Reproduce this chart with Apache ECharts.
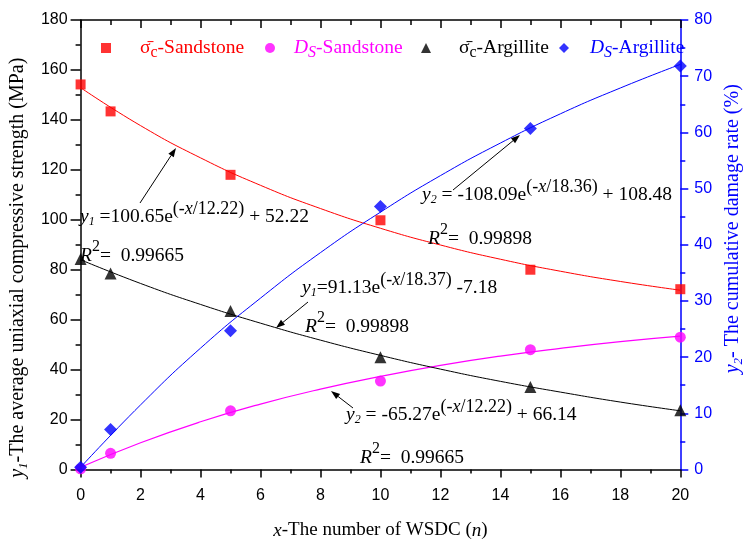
<!DOCTYPE html>
<html><head><meta charset="utf-8">
<script src="https://cdn.jsdelivr.net/npm/echarts@6/dist/echarts.min.js"></script>
<style>html,body{margin:0;padding:0;background:#fff}#c{width:753px;height:545px}</style>
</head><body><div id="c"></div>
<script>
// ---- data ----
const cycles = [0, 1, 5, 10, 15, 20];
const sandstoneStrength = [154.2, 143.4, 118.0, 99.8, 80.0, 72.2];      // MPa (left axis)
const argilliteStrength = [84.3, 78.5, 63.5, 45.0, 33.0, 23.7];         // MPa (left axis)
const sandstoneDamage   = [0.3, 6.5, 23.5, 35.4, 48.0, 53.0];           // drawn against left scale, as in the figure
const argilliteDamage   = [0.4, 7.1, 24.7, 46.8, 60.7, 71.8];           // % (right axis)
// fitted curves at every 2 cycles
const fitCycles = [0, 2, 4, 6, 8, 10, 12, 14, 16, 18, 20];
const sandstoneStrengthFit = [152.9, 137.7, 124.8, 113.8, 104.5, 96.6, 89.9, 84.2, 79.4, 75.3, 71.8];
const argilliteStrengthFit = [84.0, 74.5, 66.1, 58.6, 51.8, 45.7, 40.2, 35.3, 31.0, 27.0, 23.5];
const sandstoneDamageFit   = [0.9, 10.7, 19.1, 26.2, 32.2, 37.3, 41.7, 45.4, 48.5, 51.2, 53.4];
const argilliteDamageFit   = [0.4, 11.5, 21.6, 30.5, 38.6, 45.8, 52.3, 58.1, 63.3, 67.9, 72.1];
// axes
const xRange  = {min: 0, max: 20, interval: 2};
const y1Range = {min: 0, max: 180, interval: 20};
const y2Range = {min: 0, max: 80, interval: 10};
const seriesNames = ['σ̄c-Sandstone', 'DS-Sandstone', 'σ̄c-Argillite', 'DS-Argillite'];
const legendLabels = [
  '{g|σ̄}{sub|c}{n|-Sandstone}',
  '{gi|D}{subi|S}{n|-Sandstone}',
  '{g|σ̄}{sub|c}{n|-Argillite}',
  '{gi|D}{subi|S}{n|-Argillite}'
];
const equations = [
  '{mi|y}{sub|1}{m| =100.65e}{sup|(-}{supi|x}{sup|/12.22)}{m| + 52.22}',
  '{mi|R}{r2|2}{m|=  0.99665}',
  '{mi|y}{sub|2}{m| = -108.09e}{sup|(-}{supi|x}{sup|/18.36)}{m| + 108.48}',
  '{mi|R}{r2|2}{m|=  0.99898}',
  '{mi|y}{sub|1}{m|=91.13e}{sup|(-}{supi|x}{sup|/18.37)}{m| -7.18}',
  '{mi|R}{r2|2}{m|=  0.99898}',
  '{mi|y}{sub|2}{m| = -65.27e}{sup|(-}{supi|x}{sup|/12.22)}{m| + 66.14}',
  '{mi|R}{r2|2}{m|=  0.99665}'
];

const serif = "'Liberation Serif', 'Times New Roman', serif";
const sans = "'Liberation Sans', Arial, sans-serif";
const pairs = (xs, ys) => xs.map((x, i) => [x, ys[i]]);

const RED = '#ff0000', MAG = '#ff00ff', BLK = '#000000', BLU = '#0000ff';

function legendFor(i, left, color, icon, pad) {
  return {
    data: [seriesNames[i]], left: left, top: 38, padding: 0,
    itemWidth: 10, itemHeight: 10, icon: icon, selectedMode: false,
    formatter: () => legendLabels[i],
    textStyle: {
      color: color, fontFamily: serif, fontSize: 19.5,
      rich: {
        g: {fontSize: 19.5, lineHeight: 26, padding: [0, 0, 0, pad]},
        gi: {fontSize: 19.5, lineHeight: 26, fontStyle: 'italic', padding: [0, 0, 0, pad]},
        sub: {fontSize: 16, lineHeight: 18, verticalAlign: 'bottom'},
        subi: {fontSize: 16, lineHeight: 18, verticalAlign: 'bottom', fontStyle: 'italic'},
        n: {fontSize: 19.5, lineHeight: 26}
      }
    }
  };
}

const eqRich = {
  m: {fontSize: 19.5, fontFamily: serif, lineHeight: 34, fill: '#000'},
  mi: {fontSize: 19.5, fontFamily: serif, lineHeight: 34, fill: '#000', fontStyle: 'italic'},
  sup: {fontSize: 18, fontFamily: serif, lineHeight: 16, fill: '#000', verticalAlign: 'top'},
  supi: {fontSize: 18, fontFamily: serif, lineHeight: 16, fill: '#000', verticalAlign: 'top', fontStyle: 'italic'},
  sub: {fontSize: 12, fontFamily: serif, fill: '#000', fontStyle: 'italic', padding: [9, 0, 0, 0]},
  r2: {fontSize: 16, fontFamily: serif, lineHeight: 20, fill: '#000', verticalAlign: 'top'}
};
function eqText(i, x, y) {
  return {type: 'text', x: x, y: y, silent: true, z: 50,
    style: {text: equations[i], rich: eqRich, fill: '#000', fontFamily: serif, fontSize: 19.5,
      align: 'left', verticalAlign: 'middle'}};
}
function arrow(x1, y1, x2, y2) {
  const a = Math.atan2(y2 - y1, x2 - x1), L = 9, W = 3.2;
  const bx = x2 - L * Math.cos(a), by = y2 - L * Math.sin(a);
  const px = -Math.sin(a) * W, py = Math.cos(a) * W;
  return [
    {type: 'line', silent: true, z: 50, shape: {x1: x1, y1: y1, x2: bx, y2: by}, style: {stroke: '#000', lineWidth: 1}},
    {type: 'polygon', silent: true, z: 50, shape: {points: [[x2, y2], [bx + px, by + py], [bx - px, by - py]]}, style: {fill: '#000'}}
  ];
}

const axisLineBlack = {show: true, onZero: false, lineStyle: {color: BLK, width: 1.5}};
const nameRich = (color, fs) => ({
  i: {fontSize: fs, fontFamily: serif, fontStyle: 'italic', color: color, lineHeight: 24},
  s: {fontSize: 13, fontFamily: serif, fontStyle: 'italic', color: color, lineHeight: 20, verticalAlign: 'bottom'},
  n: {fontSize: fs, fontFamily: serif, color: color, lineHeight: 24}
});

const chart = echarts.init(document.getElementById('c'), null, {renderer: 'canvas'});
chart.setOption({
  animation: false,
  backgroundColor: '#fff',
  grid: {left: 78, right: 66, top: 20, bottom: 72, containLabel: false},
  legend: [
    legendFor(0, 101, RED, 'rect', 24),
    legendFor(1, 265, MAG, 'circle', 14),
    legendFor(2, 421, BLK, 'triangle', 23),
    legendFor(3, 559, BLU, 'diamond', 16)
  ],
  xAxis: [
    {type: 'value', position: 'bottom', min: xRange.min, max: xRange.max, interval: xRange.interval,
      axisLine: axisLineBlack,
      axisTick: {show: true, inside: false, length: 8, lineStyle: {color: BLK, width: 1.5}},
      minorTick: {show: true, splitNumber: 2, length: 4, lineStyle: {color: BLK, width: 1.5}},
      splitLine: {show: false},
      axisLabel: {color: BLK, fontFamily: sans, fontSize: 16, margin: 18},
      name: '{i|x}{n|-The number of WSDC (}{i|n}{n|)}', nameLocation: 'middle', nameGap: 49,
      nameTextStyle: {rich: nameRich(BLK, 19)}},
    {type: 'value', position: 'top', min: xRange.min, max: xRange.max, interval: xRange.interval,
      axisLine: axisLineBlack,
      axisTick: {show: true, inside: true, length: 8, lineStyle: {color: BLK, width: 1.5}},
      minorTick: {show: true, splitNumber: 2, length: 5, lineStyle: {color: BLK, width: 1.5}},
      splitLine: {show: false}, axisLabel: {show: false}}
  ],
  yAxis: [
    {type: 'value', position: 'left', min: y1Range.min, max: y1Range.max, interval: y1Range.interval,
      axisLine: axisLineBlack,
      axisTick: {show: true, inside: false, length: 10, lineStyle: {color: BLK, width: 1.5}},
      minorTick: {show: true, splitNumber: 2, length: 5, lineStyle: {color: BLK, width: 1.5}},
      splitLine: {show: false},
      axisLabel: {color: BLK, fontFamily: sans, fontSize: 16, margin: 13},
      name: '{i|y}{s|1}{n|-The average uniaxial compressive strength (MPa)}',
      nameLocation: 'middle', nameRotate: 90, nameGap: 49,
      nameTextStyle: {rich: nameRich(BLK, 20), padding: [0, 46, 0, 0]}},
    {type: 'value', position: 'right', min: y2Range.min, max: y2Range.max, interval: y2Range.interval,
      axisLine: {show: true, onZero: false, lineStyle: {color: BLU, width: 1.5}},
      axisTick: {show: true, inside: false, length: 8, lineStyle: {color: BLU, width: 1.5}},
      minorTick: {show: true, splitNumber: 2, length: 5, lineStyle: {color: BLU, width: 1.5}},
      splitLine: {show: false},
      axisLabel: {color: BLU, fontFamily: sans, fontSize: 16, margin: 14},
      name: '{i|y}{s|2}{n|- The cumulative damage rate (%)}',
      nameLocation: 'middle', nameRotate: 90, nameGap: 39,
      nameTextStyle: {rich: nameRich(BLU, 20), padding: [0, 0, 0, 32]}}
  ],
  series: [
    {name: 'fit1', type: 'line', xAxisIndex: 0, yAxisIndex: 0, smooth: true, showSymbol: false, silent: true,
      data: pairs(fitCycles, sandstoneStrengthFit), lineStyle: {color: RED, width: 1}, z: 2},
    {name: 'fit2', type: 'line', xAxisIndex: 0, yAxisIndex: 0, smooth: true, showSymbol: false, silent: true,
      data: pairs(fitCycles, sandstoneDamageFit), lineStyle: {color: MAG, width: 1.2}, z: 2},
    {name: 'fit3', type: 'line', xAxisIndex: 0, yAxisIndex: 0, smooth: true, showSymbol: false, silent: true,
      data: pairs(fitCycles, argilliteStrengthFit), lineStyle: {color: BLK, width: 1}, z: 2},
    {name: 'fit4', type: 'line', xAxisIndex: 0, yAxisIndex: 1, smooth: true, showSymbol: false, silent: true,
      data: pairs(fitCycles, argilliteDamageFit), lineStyle: {color: BLU, width: 1}, z: 2},
    {name: seriesNames[0], type: 'scatter', yAxisIndex: 0, symbol: 'rect', symbolSize: 10,
      itemStyle: {color: RED}, data: pairs(cycles, sandstoneStrength), z: 5},
    {name: seriesNames[1], type: 'scatter', yAxisIndex: 0, symbol: 'circle', symbolSize: 11,
      itemStyle: {color: MAG}, data: pairs(cycles, sandstoneDamage), z: 5},
    {name: seriesNames[2], type: 'scatter', yAxisIndex: 0, symbol: 'triangle', symbolSize: 12,
      itemStyle: {color: BLK}, data: pairs(cycles, argilliteStrength), z: 5},
    {name: seriesNames[3], type: 'scatter', yAxisIndex: 1, symbol: 'diamond', symbolSize: 13,
      itemStyle: {color: BLU}, data: pairs(cycles, argilliteDamage), z: 6}
  ],
  graphic: [
    eqText(0, 80, 217), eqText(1, 80, 256),
    eqText(2, 422, 195), eqText(3, 428, 239),
    eqText(4, 302, 288), eqText(5, 305, 327),
    eqText(6, 346, 415), eqText(7, 360, 458),
    ...arrow(140, 203, 176, 148),
    ...arrow(453, 190, 520, 135),
    ...arrow(308, 302, 276, 328),
    ...arrow(353, 408, 331, 391)
  ]
});
</script></body></html>
